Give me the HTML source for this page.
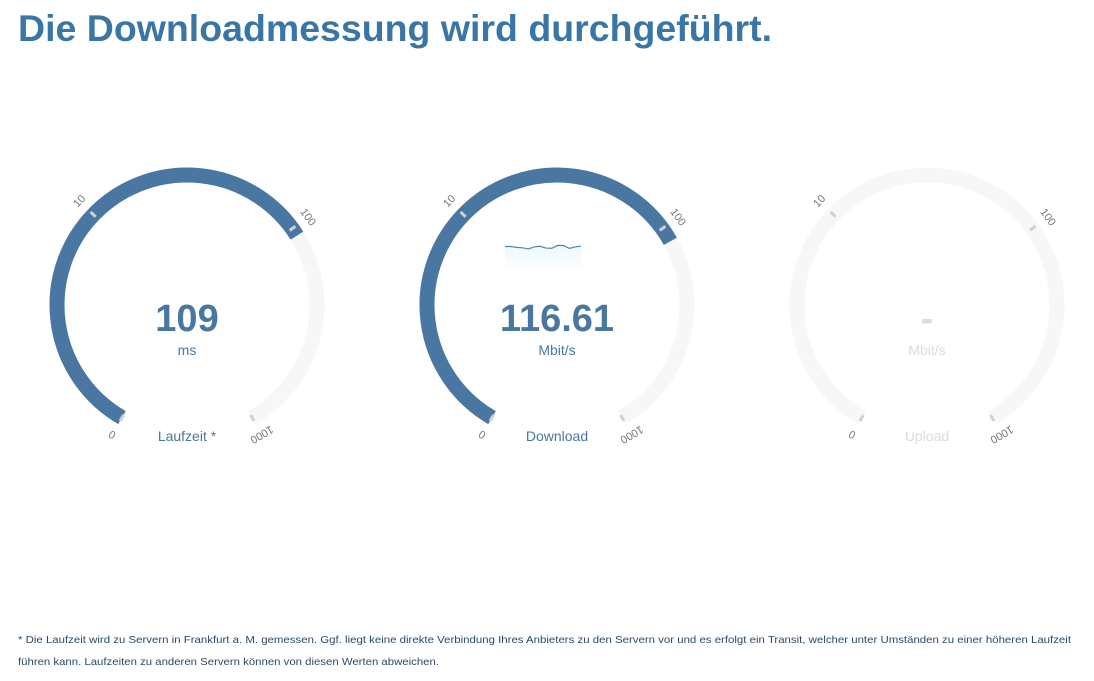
<!DOCTYPE html>
<html><head><meta charset="utf-8"><style>
body{margin:0;background:#fff;width:1094px;height:676px;overflow:hidden;font-family:"Liberation Sans",sans-serif}
</style></head><body>
<svg id="s" width="1094" height="676" xmlns="http://www.w3.org/2000/svg">
<defs><linearGradient id="sg" x1="0" y1="0" x2="0" y2="1"><stop offset="0" stop-color="#eef8fb"/><stop offset="1" stop-color="#fbfeff"/></linearGradient></defs>
<text x="18" y="41" font-size="37" font-weight="bold" fill="#3a76a5" textLength="754" lengthAdjust="spacingAndGlyphs">Die Downloadmessung wird durchgeführt.</text>
<g id="gauges"></g>
<text x="18" y="643" font-size="10.5" fill="#2b4a68" textLength="1053" lengthAdjust="spacingAndGlyphs">* Die Laufzeit wird zu Servern in Frankfurt a. M. gemessen. Ggf. liegt keine direkte Verbindung Ihres Anbieters zu den Servern vor und es erfolgt ein Transit, welcher unter Umständen zu einer höheren Laufzeit</text>
<text x="18" y="665" font-size="10.5" fill="#2b4a68" textLength="421" lengthAdjust="spacingAndGlyphs">führen kann. Laufzeiten zu anderen Servern können von diesen Werten abweichen.</text>
</svg>
<script>
const gaugeLabels = ["Laufzeit *", "Download", "Upload"];
const gaugeUnits = ["ms", "Mbit/s", "Mbit/s"];
const gaugeValues = [109, 116.61, null];
const gaugeDisplay = ["109", "116.61", "-"];
const tickValues = [0, 10, 100, 1000];
const tickLabels = ["0", "10", "100", "1000"];
const sparkValues = [5, 5, 4.2, 3.8, 2.8, 4.6, 5.2, 3.6, 3.4, 6, 5.9, 3.3, 4.6, 5.4];

const NS = "http://www.w3.org/2000/svg";
const g = document.getElementById("gauges");
const R = 130, CY = 305, START = -150, SPAN = 300;
function angleOf(v){ if(v<=1) return START; const t=Math.min(Math.log10(v),3); return START + SPAN*t/3 + 4; }
function pt(cx,a,r){ const rad=a*Math.PI/180; return [cx+r*Math.sin(rad), CY-r*Math.cos(rad)]; }
function arc(cx,a0,a1,r){ const p0=pt(cx,a0,r),p1=pt(cx,a1,r); const large=(a1-a0)>180?1:0; return `M${p0[0]} ${p0[1]} A${r} ${r} 0 ${large} 1 ${p1[0]} ${p1[1]}`; }
function el(tag,attrs,parent){ const e=document.createElementNS(NS,tag); for(const k in attrs) e.setAttribute(k,attrs[k]); parent.appendChild(e); return e; }

gaugeLabels.forEach((lab,i)=>{
  const cx = 187 + 370*i;
  const active = gaugeValues[i]!==null;
  const grp = el("g",{},g);
  
  
  const track = el("path",{d:arc(cx,START,START+SPAN,R),fill:"none",stroke:"#f7f7f7","stroke-width":15},grp);
  
  
  if(active){
    const fill = el("path",{d:arc(cx,START,Math.min(angleOf(gaugeValues[i]),START+SPAN),R),fill:"none",stroke:"#4a77a2","stroke-width":15},grp);
    
    
  }
  tickValues.forEach((tv,j)=>{
    const a = (j===0||j===tickValues.length-1)?(j===0?START:START+SPAN):angleOf(tv);
    const p0=pt(cx,a,R-3), p1=pt(cx,a,R+4);
    const tk = el("line",{x1:p0[0],y1:p0[1],x2:p1[0],y2:p1[1],stroke:"#d0d0d0","stroke-width":3},grp);
    
    
    const lp = pt(cx,a,R+19);
    const t = el("text",{x:lp[0],y:lp[1],"font-size":11,fill:"#777","text-anchor":"middle","dominant-baseline":"middle",transform:`rotate(${a} ${lp[0]} ${lp[1]})`},grp);
    t.textContent = tickLabels[j];
    
    
  });
  const col = active ? "#4a77a2" : "#dcdcdc";
  const v = el("text",{x:cx,y:331,"font-size":38,"font-weight":"bold",fill:col,"text-anchor":"middle"},grp);
  v.textContent = gaugeDisplay[i];
  
  
  const u = el("text",{x:cx,y:355,"font-size":14,fill:col,"text-anchor":"middle"},grp);
  u.textContent = gaugeUnits[i];
  
  
  const l = el("text",{x:cx,y:441,"font-size":14,fill:col,"text-anchor":"middle"},grp);
  l.textContent = lab;
  
  
});

// sparkline in download gauge
const sx0=505, sx1=581, sy=(v)=>252 - v*1.1;
const xs = sparkValues.map((v,k)=>sx0+(sx1-sx0)*k/(sparkValues.length-1));
let d = sparkValues.map((v,k)=>(k?'L':'M')+xs[k]+' '+sy(v)).join(' ');
const area = el("path",{d:d+` L${sx1} 268 L${sx0} 268 Z`,fill:"url(#sg)"},g);


const line = el("path",{d:d,fill:"none",stroke:"#4a86b0","stroke-width":1.2},g);


</script>
</body></html>
